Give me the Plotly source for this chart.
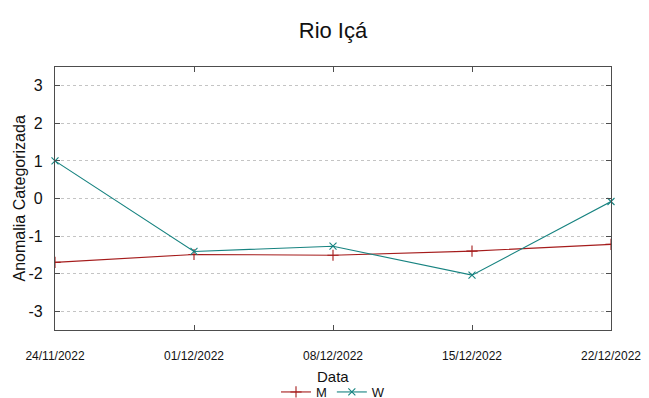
import plotly.graph_objects as go

# Data
dates_m = ["2022-11-17", "2022-11-24", "2022-12-01", "2022-12-08", "2022-12-15", "2022-12-22", "2022-12-29"]
values_m = [-1.91, -1.70, -1.49, -1.51, -1.40, -1.22, -1.04]
dates_w = ["2022-11-24", "2022-12-01", "2022-12-08", "2022-12-15", "2022-12-22"]
values_w = [1.0, -1.41, -1.27, -2.04, -0.08]
tick_dates = ["2022-11-24", "2022-12-01", "2022-12-08", "2022-12-15", "2022-12-22"]
tick_labels = ["24/11/2022", "01/12/2022", "08/12/2022", "15/12/2022", "22/12/2022"]
y_ticks = [-3, -2, -1, 0, 1, 2, 3]
y_tick_labels = ["-3", "-2", "-1", "0", "1", "2", "3"]

W, H = 649, 398
red = "#a51c1c"
teal = "#178380"
axis_col = "#4d4d4d"
font_main = "Liberation Sans, Arial, sans-serif"

fig = go.Figure()
fig.add_trace(go.Scatter(
    x=dates_m, y=values_m, name="M", mode="lines+markers",
    line=dict(color=red, width=1.1),
    marker=dict(symbol="cross-thin-open", size=8, line=dict(color=red, width=1.1)),
))
fig.add_trace(go.Scatter(
    x=dates_w, y=values_w, name="W", mode="lines+markers",
    line=dict(color=teal, width=1.1), cliponaxis=False,
    marker=dict(symbol="x-thin-open", size=7, line=dict(color=teal, width=1.1)),
))

fig.update_layout(
    width=W, height=H,
    margin=dict(l=55, r=38, t=67, b=68),
    plot_bgcolor="white", paper_bgcolor="white",
    font=dict(family=font_main, color="#222"),
    title=dict(text="Rio Içá", x=0.5, xref="paper", y=1 - 30 / H, yref="container",
               yanchor="middle", automargin=False,
               font=dict(size=22, color="#111")),
    showlegend=True,
    legend=dict(orientation="h", x=0.5, xanchor="center", xref="paper",
                y=6 / H, yref="container", yanchor="middle",
                font=dict(size=13, color="#111"),
                bgcolor="rgba(0,0,0,0)", itemwidth=30, tracegroupgap=0),
    annotations=[
        dict(text="Data", xref="paper", yref="paper", x=0.5, y=-(376 - 330) / 263,
             xanchor="center", yanchor="middle", showarrow=False,
             font=dict(size=15, color="#111")),
        dict(text="Anomalia Categorizada", xref="paper", yref="paper",
             x=-(55 - 19) / 556, y=0.5, xanchor="center", yanchor="middle",
             textangle=-90, showarrow=False, font=dict(size=16, color="#111")),
    ],
)
fig.update_xaxes(
    type="date", range=["2022-11-24", "2022-12-22"], automargin=False,
    tickmode="array", tickvals=tick_dates, ticktext=tick_labels,
    ticks="inside", ticklen=5, tickcolor=axis_col,
    showline=True, linecolor=axis_col, linewidth=1.2, mirror="allticks",
    showgrid=False, zeroline=False,
    tickfont=dict(size=12, color="#111"),
    ticklabelstandoff=14,
)
fig.update_yaxes(
    range=[-3.5, 3.5], tickmode="array", tickvals=y_ticks, ticktext=y_tick_labels,
    automargin=False,
    ticks="inside", ticklen=5, tickcolor=axis_col,
    showline=True, linecolor=axis_col, linewidth=1.2, mirror="allticks",
    showgrid=True, gridcolor="#c4c4c4", griddash="dot", gridwidth=1,
    zeroline=False,
    tickfont=dict(size=16, color="#111"),
    ticklabelstandoff=8,
)

fig.write_html("out.html", config={"displayModeBar": False},
               post_script="document.body.style.margin='0';")
